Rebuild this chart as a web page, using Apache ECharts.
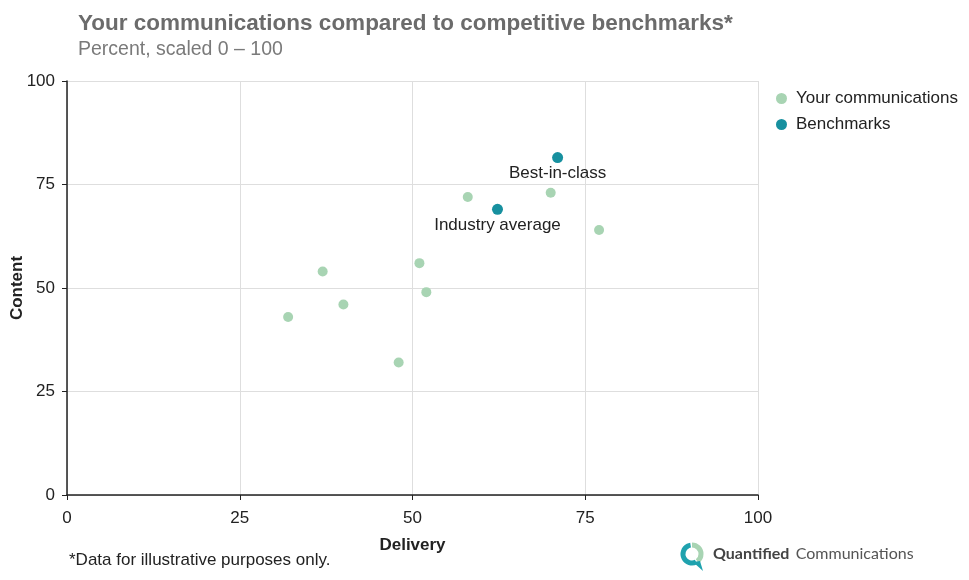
<!DOCTYPE html>
<html><head><meta charset="utf-8">
<script src="https://cdn.jsdelivr.net/npm/echarts@6/dist/echarts.min.js"></script>
<style>html,body{margin:0;padding:0;background:#fff}#c{width:969px;height:580px}</style>
</head><body><div id="c"></div>
<script>
const xTicks = [0, 25, 50, 75, 100];
const yTicks = [0, 25, 50, 75, 100];
const yourComms = [[32,43],[37,54],[40,46],[48,32],[51,56],[52,49],[58,72],[70,73],[77,64]];
const benchNames = ['Best-in-class', 'Industry average'];
const benchValues = [[71,81.5],[62.3,69]];

const chart = echarts.init(document.getElementById('c'), null, {renderer:'canvas'});
const font = 'Liberation Sans';
chart.setOption({
  animation:false,
  textStyle:{fontFamily:font},
  title:{
    text:'Your communications compared to competitive benchmarks*',
    subtext:'Percent, scaled 0 – 100',
    left:73, top:7, itemGap:5,
    textStyle:{fontSize:22.5, fontWeight:'bold', color:'#6b6b6b', fontFamily:font},
    subtextStyle:{fontSize:19.5, color:'#7a7a7a', fontFamily:font}
  },
  legend:{
    orient:'vertical', left:771, top:85, itemGap:9,
    icon:'circle', itemWidth:11, itemHeight:11,
    textStyle:{fontSize:17, color:'#222', fontFamily:font, padding:[0,0,0,4]},
    data:['Your communications','Benchmarks']
  },
  grid:{left:67, right:211, top:81, bottom:85, containLabel:false, outerBoundsMode:'none'},
  xAxis:{
    type:'value', min:0, max:100, interval:25,
    name:'Delivery', nameLocation:'middle', nameGap:42, nameMoveOverlap:false,
    nameTextStyle:{fontSize:17, fontWeight:'bold', color:'#222', fontFamily:font},
    axisLine:{lineStyle:{color:'#222', width:1.5}},
    axisTick:{show:true, length:5, lineStyle:{color:'#222'}},
    axisLabel:{fontSize:17, color:'#222', margin:15, fontFamily:font,
      formatter:v=>xTicks.includes(v)?String(v):''},
    splitLine:{show:true, lineStyle:{color:'#dedede'}}
  },
  yAxis:{
    type:'value', min:0, max:100, interval:25,
    name:'Content', nameLocation:'middle', nameGap:41, nameMoveOverlap:false,
    nameTextStyle:{fontSize:17, fontWeight:'bold', color:'#222', fontFamily:font},
    axisLine:{show:true, lineStyle:{color:'#222', width:1.5}},
    axisTick:{show:true, length:5, lineStyle:{color:'#222'}},
    axisLabel:{fontSize:17, color:'#222', margin:12, fontFamily:font,
      formatter:v=>yTicks.includes(v)?String(v):''},
    splitLine:{show:true, lineStyle:{color:'#dedede'}}
  },
  series:[
    {name:'Your communications', type:'scatter', symbolSize:10,
     itemStyle:{color:'#a8d4b3', opacity:1}, data:yourComms},
    {name:'Benchmarks', type:'scatter', symbolSize:11,
     itemStyle:{color:'#17909f', opacity:1},
     data:benchValues.map((v,i)=>({value:v, name:benchNames[i]})),
     label:{show:true, position:'bottom', distance:2, formatter:'{b}',
       fontSize:17, color:'#222', fontFamily:font}}
  ],
  graphic:[
    {type:'text', left:69, top:552,
     style:{text:'*Data for illustrative purposes only.', fontSize:17, fill:'#222', fontFamily:font}},
    {type:'arc', shape:{cx:692, cy:554, r:9, startAngle:Math.PI*0.35, endAngle:Math.PI*1.45},
     style:{stroke:'#1fa2ae', lineWidth:5, fill:null}},
    {type:'arc', shape:{cx:692, cy:554, r:9, startAngle:-Math.PI*0.5, endAngle:Math.PI*0.3},
     style:{stroke:'#a8d4b3', lineWidth:5, fill:null}},
    {type:'polygon', shape:{points:[[693,562],[700,561],[703,571]]}, style:{fill:'#1fa2ae'}},
    {type:'text', left:713, top:546,
     style:{rich:{a:{fontSize:16, fontWeight:'bold', fill:'#444', fontFamily:'Lato'},
                  b:{fontSize:16, fill:'#555', fontFamily:'Lato', padding:[0,0,0,3]}},
            text:'{a|Quantified} {b|Communications}'}}
  ]
});
</script></body></html>
